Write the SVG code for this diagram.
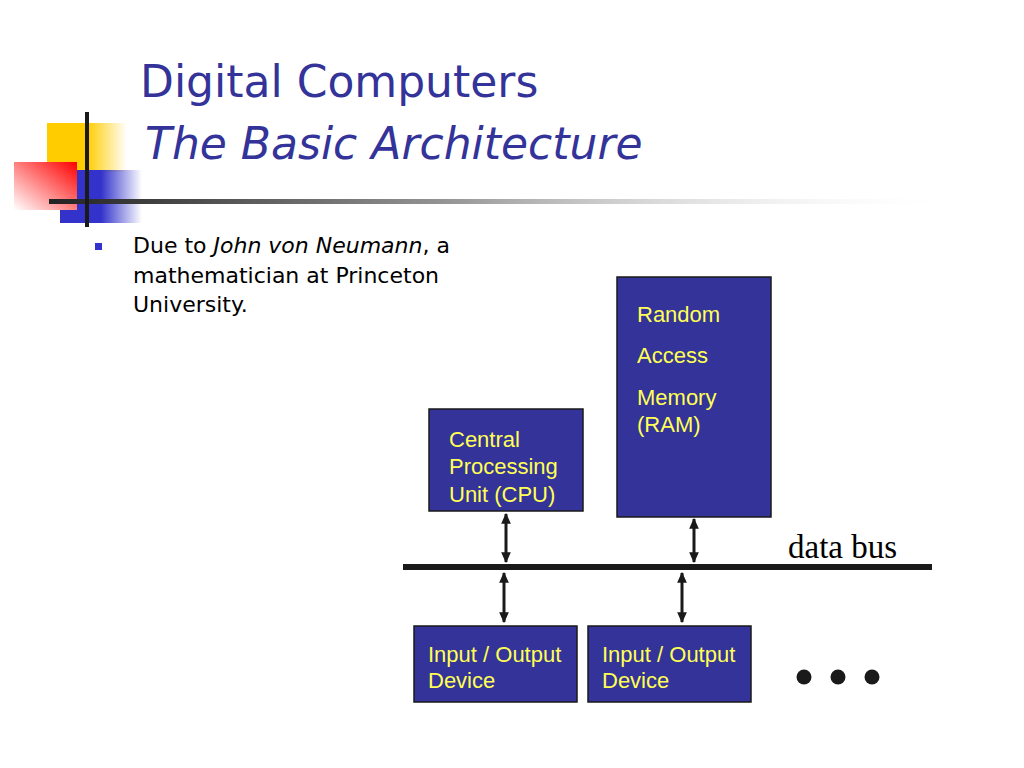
<svg xmlns="http://www.w3.org/2000/svg" width="1024" height="768" viewBox="0 0 1024 768">
<defs>
<linearGradient id="gY" x1="0" y1="0" x2="1" y2="0"><stop offset="0" stop-color="#FFCC00"/><stop offset="0.5" stop-color="#FFCC00"/><stop offset="1" stop-color="#FFCC00" stop-opacity="0"/></linearGradient>
<linearGradient id="gB" x1="0" y1="0" x2="1" y2="0"><stop offset="0" stop-color="#3333CC"/><stop offset="0.5" stop-color="#3333CC"/><stop offset="1" stop-color="#3333CC" stop-opacity="0"/></linearGradient>
<linearGradient id="gR" x1="1" y1="0" x2="0" y2="1"><stop offset="0" stop-color="#FF0000"/><stop offset="1" stop-color="#FFFFFF"/></linearGradient>
<linearGradient id="gL" x1="0" y1="0" x2="1" y2="0"><stop offset="0" stop-color="#222222"/><stop offset="0.45" stop-color="#999999"/><stop offset="1" stop-color="#FFFFFF" stop-opacity="0"/></linearGradient>
<marker id="ah" viewBox="0 0 10 10" refX="9" refY="5" markerWidth="3.6" markerHeight="3.6" orient="auto-start-reverse" markerUnits="strokeWidth"><path d="M0,0.5 L10,5 L0,9.5 z" fill="#1a1a1a"/></marker>
</defs>
<style>
.box{fill:#333399;stroke:#1a1a1a;stroke-width:1.5}
.bt{font-family:"Liberation Sans",Arial,sans-serif;font-size:22px;fill:#FFFF55}
.title{font-family:"DejaVu Sans",Verdana,sans-serif;font-size:44px;fill:#333399}
.body{font-family:"DejaVu Sans",Verdana,sans-serif;font-size:22px;fill:#000}
.arr{stroke:#1a1a1a;stroke-width:3;fill:none;marker-start:url(#ah);marker-end:url(#ah)}
</style>
<rect width="1024" height="768" fill="#FFFFFF"/>
<g id="decoration">
<rect x="47" y="123" width="80" height="49" fill="url(#gY)"/>
<rect x="60" y="170" width="82" height="53" fill="url(#gB)"/>
<rect x="14" y="162" width="63" height="48" fill="url(#gR)"/>
<rect x="49" y="199" width="912" height="5" fill="url(#gL)"/>
<rect x="85" y="112" width="4" height="115" fill="#1a1a1a"/>
</g>
<g id="title">
<text class="title" x="140" y="97">Digital Computers</text>
<text class="title" x="145" y="159" font-style="italic">The Basic Architecture</text>
</g>
<g id="bullet">
<rect x="95" y="243" width="7" height="7" fill="#3333CC"/>
<text class="body" x="133" y="253">Due to <tspan font-style="italic">John von Neumann</tspan>, a</text>
<text class="body" x="133" y="283">mathematician at Princeton</text>
<text class="body" x="133" y="312">University.</text>
</g>
<g id="ram">
<rect class="box" x="617" y="277" width="154" height="240"/>
<text class="bt" x="637" y="322">Random</text>
<text class="bt" x="637" y="363">Access</text>
<text class="bt" x="637" y="405">Memory</text>
<text class="bt" x="637" y="432">(RAM)</text>
</g>
<g id="cpu">
<rect class="box" x="429" y="409" width="154" height="102"/>
<text class="bt" x="449" y="447">Central</text>
<text class="bt" x="449" y="474">Processing</text>
<text class="bt" x="449" y="502">Unit (CPU)</text>
</g>
<g id="io1">
<rect class="box" x="414" y="626" width="163" height="76"/>
<text class="bt" x="428" y="662">Input / Output</text>
<text class="bt" x="428" y="688">Device</text>
</g>
<g id="io2">
<rect class="box" x="588" y="626" width="163" height="76"/>
<text class="bt" x="602" y="662">Input / Output</text>
<text class="bt" x="602" y="688">Device</text>
</g>
<g id="bus">
<rect x="403" y="564" width="529" height="6" fill="#1a1a1a"/>
<text x="788" y="558" font-family="'Liberation Serif','Times New Roman',serif" font-size="33" fill="#000">data bus</text>
</g>
<g id="dots" fill="#1a1a1a">
<circle cx="804" cy="677" r="7.5"/>
<circle cx="838" cy="677" r="7.5"/>
<circle cx="872" cy="677" r="7.5"/>
</g>
<g id="connectors">
<line class="arr" x1="506" y1="514" x2="506" y2="562"/>
<line class="arr" x1="694" y1="519" x2="694" y2="562"/>
<line class="arr" x1="504" y1="573" x2="504" y2="622"/>
<line class="arr" x1="682" y1="573" x2="682" y2="622"/>
</g>
</svg>
